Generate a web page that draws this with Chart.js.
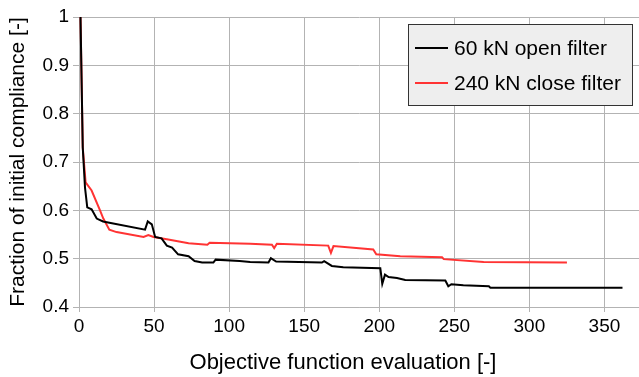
<!DOCTYPE html>
<html>
<head>
<meta charset="utf-8">
<script src="https://cdn.jsdelivr.net/npm/chart.js@4"></script>
<style>
  html, body { margin: 0; padding: 0; background: #fff; }
  #wrap { width: 639px; height: 377px; }
</style>
</head>
<body>
<div id="wrap"><canvas id="myChart" width="639" height="377"></canvas></div>
<script>
// du lieu doc tu hinh
const openX = [1, 2.5, 4, 5.5, 8.4, 11.8, 16, 44, 45.8, 48.5, 50.7, 55, 58.5, 62, 66, 73, 77, 82, 89.5, 91, 107, 114, 126.2, 127.8, 131.3, 161.8, 163.3, 168.4, 176, 200.7, 202, 203.8, 206.2, 211.8, 217.3, 244, 246, 248, 256, 273, 274, 292, 362];
const openY = [1.0, 0.73, 0.647, 0.606, 0.602, 0.583, 0.577, 0.56, 0.577, 0.571, 0.545, 0.542, 0.527, 0.523, 0.509, 0.505, 0.495, 0.492, 0.492, 0.498, 0.495, 0.493, 0.492, 0.501, 0.494, 0.492, 0.495, 0.485, 0.482, 0.48, 0.448, 0.467, 0.462, 0.46, 0.456, 0.455, 0.443, 0.447, 0.445, 0.443, 0.44, 0.44, 0.44];

const closeX = [1, 2.5, 4.4, 8.4, 14, 16.2, 20.2, 25, 43, 46.2, 49.6, 58.5, 73, 85.5, 87, 114, 128.5, 130, 131.8, 166, 167.8, 169.5, 196, 198, 214, 241.8, 243, 269.5, 325];
const closeY = [1.0, 0.73, 0.658, 0.641, 0.6, 0.583, 0.56, 0.555, 0.545, 0.549, 0.545, 0.54, 0.532, 0.529, 0.533, 0.531, 0.529, 0.522, 0.531, 0.527, 0.512, 0.526, 0.519, 0.509, 0.505, 0.503, 0.499, 0.493, 0.492];

const seriesNames = ['60 kN open filter', '240 kN close filter'];
const xTicks = [0, 50, 100, 150, 200, 250, 300, 350];
const yTicks = [0.4, 0.5, 0.6, 0.7, 0.8, 0.9, 1];
const xTitle = 'Objective function evaluation [-]';
const yTitle = 'Fraction of initial compliance [-]';

const FONT = "'Liberation Sans', Arial, sans-serif";
const GRID = '#b3b3b3';

function toPoints(xs, ys) {
  return xs.map((x, i) => ({ x: x, y: ys[i] }));
}

// chu thich co nen xam + tieu de truc x
const legendBox = {
  id: 'legendBox',
  afterDraw(chart) {
    const c = chart.ctx;
    const x0 = 408, y0 = 24, w = 224, h = 81;
    c.save();
    c.fillStyle = '#eeeeee';
    c.fillRect(x0, y0, w, h);
    c.strokeStyle = '#333333';
    c.lineWidth = 1;
    c.strokeRect(x0 + 0.5, y0 + 0.5, w, h);
    c.font = '21px ' + FONT;
    c.textBaseline = 'middle';
    chart.data.datasets.forEach((ds, i) => {
      const yy = y0 + 24 + i * 35;
      c.strokeStyle = ds.borderColor;
      c.lineWidth = 2;
      c.beginPath();
      c.moveTo(x0 + 7, yy);
      c.lineTo(x0 + 40, yy);
      c.stroke();
      c.fillStyle = '#000';
      c.fillText(ds.label, x0 + 46, yy + 1);
    });
    // tieu de truc x
    c.font = '22px ' + FONT;
    c.textAlign = 'center';
    c.fillText(xTitle, 343, 363);
    c.restore();
  }
};

const config = {
  type: 'line',
  data: {
    datasets: [{
      label: seriesNames[0],
      data: toPoints(openX, openY),
      borderColor: '#000000',
      backgroundColor: '#000000',
      borderWidth: 2,
      pointRadius: 0,
      tension: 0,
      order: 0
    }, {
      label: seriesNames[1],
      data: toPoints(closeX, closeY),
      borderColor: '#ff3333',
      backgroundColor: '#ff3333',
      borderWidth: 2,
      pointRadius: 0,
      tension: 0,
      order: 1
    }]
  },
  options: {
    responsive: false,
    animation: false,
    layout: { padding: { top: 17, right: 0, left: 0, bottom: 0 } },
    plugins: {
      legend: { display: false },
      tooltip: { enabled: false }
    },
    scales: {
      x: {
        type: 'linear',
        min: 0,
        max: 373,
        afterBuildTicks: (scale) => { scale.ticks = xTicks.map(v => ({ value: v })); },
        afterFit: (scale) => { scale.height = 70; },
        grid: { color: GRID, tickLength: 5, drawTicks: true },
        border: { color: GRID, width: 1 },
        ticks: {
          color: '#000',
          font: { family: FONT, size: 19 },
          padding: 3,
          maxRotation: 0
        },
        title: { display: false }
      },
      y: {
        type: 'linear',
        min: 0.4,
        max: 1,
        afterBuildTicks: (scale) => { scale.ticks = yTicks.map(v => ({ value: v })); },
        afterFit: (scale) => { scale.width = 79; },
        grid: { color: GRID, tickLength: 6 },
        border: { color: GRID, width: 1 },
        ticks: {
          color: '#000',
          font: { family: FONT, size: 19 },
          padding: 4,
          callback: (v) => String(Math.round(v * 10) / 10)
        },
        title: {
          display: true,
          text: yTitle,
          color: '#000',
          font: { family: FONT, size: 21 },
          padding: { top: 6, bottom: 0 }
        }
      }
    }
  },
  plugins: [legendBox]
};

const ctx = document.getElementById('myChart').getContext('2d');
let myChart = new Chart(ctx, config);
</script>
</body>
</html>
